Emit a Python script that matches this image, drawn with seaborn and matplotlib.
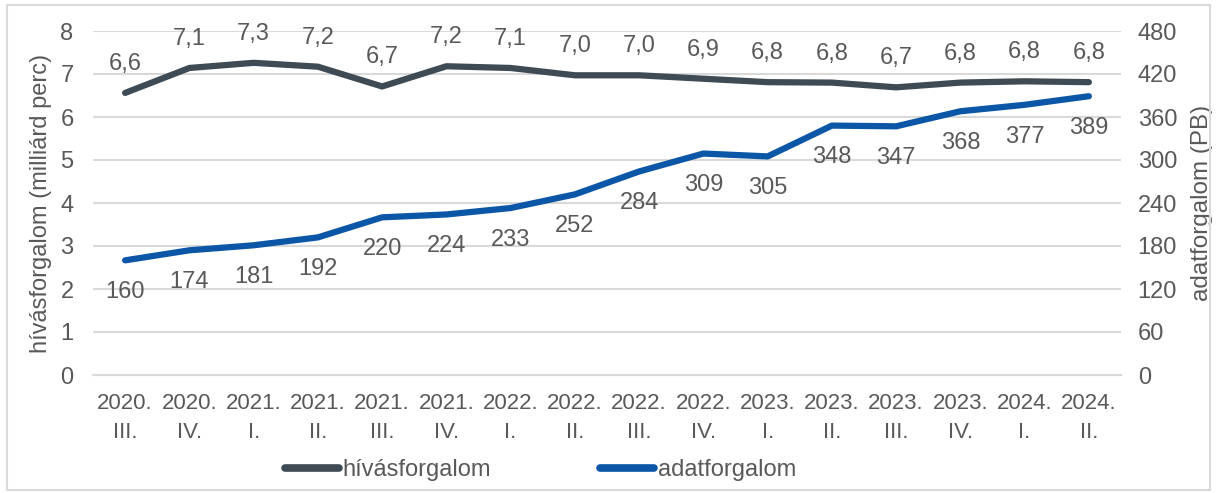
import pandas as pd
import seaborn as sns
import matplotlib.pyplot as plt
from matplotlib.lines import Line2D

# --- adatok ---
negyedevek = ['2020.\nIII.', '2020.\nIV.', '2021.\nI.', '2021.\nII.', '2021.\nIII.', '2021.\nIV.',
              '2022.\nI.', '2022.\nII.', '2022.\nIII.', '2022.\nIV.', '2023.\nI.', '2023.\nII.',
              '2023.\nIII.', '2023.\nIV.', '2024.\nI.', '2024.\nII.']
hivasforgalom = [6.56, 7.14, 7.26, 7.17, 6.71, 7.18, 7.14, 6.97, 6.97, 6.89, 6.81, 6.80, 6.69, 6.80, 6.83, 6.81]
hivas_cimkek = ['6,6', '7,1', '7,3', '7,2', '6,7', '7,2', '7,1', '7,0', '7,0', '6,9', '6,8', '6,8',
                '6,7', '6,8', '6,8', '6,8']
adatforgalom = [160, 174, 181, 192, 220, 224, 233, 252, 284, 309, 305, 348, 347, 368, 377, 389]

SZURKE = '#3E4A54'
KEK = '#0B56A6'
SZOVEG = '#595959'
RACS = '#D9D9D9'

sns.set_theme(style='white')
plt.rcParams['font.family'] = ['Liberation Sans', 'DejaVu Sans']

df = pd.DataFrame({'x': range(len(negyedevek)), 'hivas': hivasforgalom, 'adat': adatforgalom})

fig = plt.figure(figsize=(12.17, 4.93), dpi=100)
ax = fig.add_axes([93 / 1217, 1 - 375 / 493, (1121 - 93) / 1217, (375 - 31) / 493])
ax2 = ax.twinx()

sns.lineplot(data=df, x='x', y='hivas', ax=ax, color=SZURKE, linewidth=4.5, zorder=3)
sns.lineplot(data=df, x='x', y='adat', ax=ax2, color=KEK, linewidth=4.5, zorder=3)

ax.set_xlim(-0.5, len(negyedevek) - 0.5)
ax.set_ylim(0, 8)
ax2.set_ylim(0, 480)
ax.set_yticks(range(0, 9))
ax2.set_yticks(range(0, 481, 60))

for y in range(1, 9):
    ax.axhline(y, color=RACS, linewidth=1.5, zorder=0)

# kategoria tengely: jelek a kategoriak kozott
ax.set_xticks(range(len(negyedevek)))
ax.set_xticklabels(negyedevek, fontsize=16, color=SZOVEG, linespacing=1.5)
ax.set_xticks([i - 0.5 for i in range(len(negyedevek) + 1)], minor=True)
ax.tick_params(axis='x', which='major', length=0, pad=13)
ax.tick_params(axis='x', which='minor', length=7, width=1.5, color=RACS, direction='out')
ax.tick_params(axis='y', length=0, labelsize=17, labelcolor=SZOVEG, pad=14)
ax2.tick_params(axis='y', length=0, labelsize=17, labelcolor=SZOVEG, pad=12)

for a in (ax, ax2):
    for side in ['top', 'left', 'right']:
        a.spines[side].set_visible(False)
    a.spines['bottom'].set_color(RACS)
    a.spines['bottom'].set_linewidth(1.5)
    a.set_xlabel('')

ax.set_ylabel('hívásforgalom (milliárd perc)', fontsize=17, color=SZOVEG, labelpad=6)
ax2.set_ylabel('adatforgalom (PB)', fontsize=17.5, color=SZOVEG, labelpad=10)

# adatcimkek
for i, (v, c) in enumerate(zip(hivasforgalom, hivas_cimkek)):
    ax.annotate(c, (i, v), xytext=(0, 13), textcoords='offset points', ha='center', va='bottom',
                fontsize=17, color=SZOVEG)
for i, v in enumerate(adatforgalom):
    ax2.annotate(str(v), (i, v), xytext=(0, -15), textcoords='offset points', ha='center', va='top',
                 fontsize=17, color=SZOVEG)

# jelmagyarazat
kezek = [Line2D([0], [0], color=SZURKE, lw=5.5, solid_capstyle='round'),
         Line2D([0], [0], color=KEK, lw=5.5, solid_capstyle='round')]
fig.legend(kezek, ['hívásforgalom', 'adatforgalom'], loc='center', bbox_to_anchor=(0.444, 0.047),
           ncol=2, frameon=False, fontsize=17, labelcolor=SZOVEG, handlelength=2.3,
           handletextpad=0.15, columnspacing=4.6)

# keret
fig.patches.append(plt.Rectangle((7 / 1217, 3 / 493), 1 - 14 / 1217, 1 - 8 / 493, transform=fig.transFigure,
                                 fill=False, edgecolor=RACS, linewidth=1.5))

fig.savefig('out.png', dpi=100)
